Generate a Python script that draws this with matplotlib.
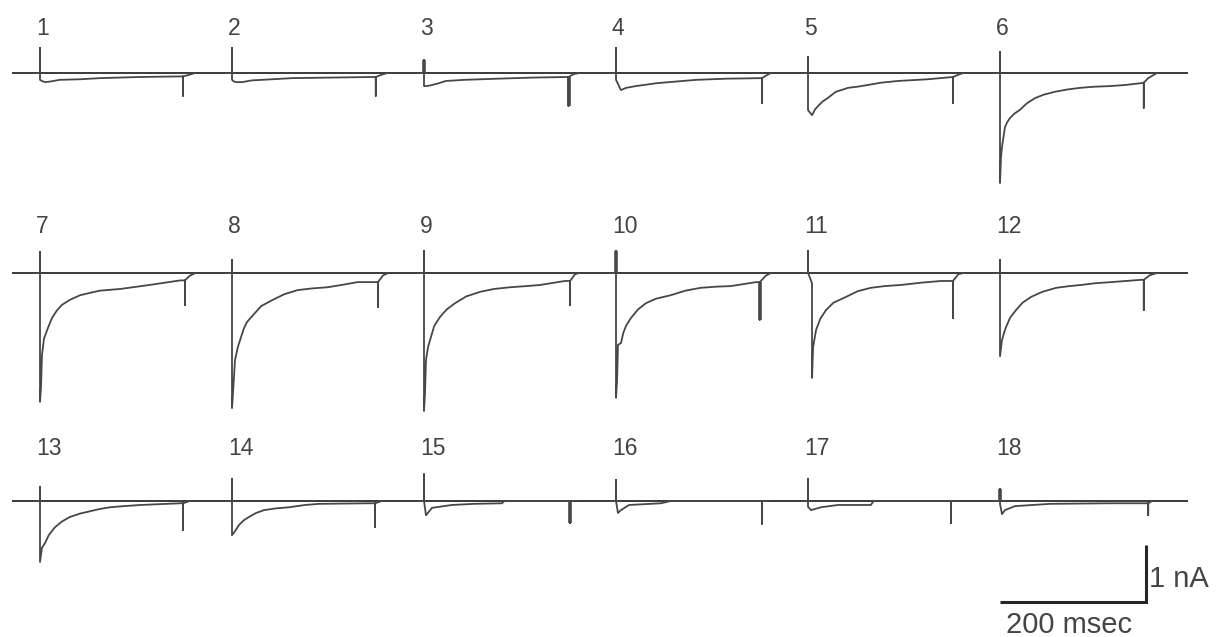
import matplotlib
matplotlib.use("Agg")
import matplotlib.pyplot as plt

# ---------------- data (time in ms from step onset, current in nA) ----------------
labels = [str(k) for k in range(1, 19)]

t01 = [-8, 0, 0, 0, 2.7, 6.8, 14, 27, 55, 82, 137, 192, 196, 196, 196, 205, 212]
i01 = [0, 0, 0.44, -0.12, -0.14, -0.16, -0.15, -0.12, -0.11, -0.09, -0.07, -0.06, -0.06, -0.40, -0.06, -0.03, 0.0]
t02 = [-8, 0, 0, 0, 2.7, 6.8, 14, 27, 55, 82, 137, 194, 197, 197, 197, 205, 213]
i02 = [0, 0, 0.44, -0.12, -0.15, -0.16, -0.16, -0.13, -0.11, -0.09, -0.08, -0.07, -0.07, -0.40, -0.07, -0.03, 0.0]
t03 = [-8, 0, 0, 0, 2.7, 8, 20, 30, 55, 100, 150, 198, 198, 198, 205, 213]
i03 = [0, 0, 0.23, -0.23, -0.23, -0.22, -0.18, -0.14, -0.12, -0.10, -0.08, -0.07, -0.58, -0.07, -0.02, 0.0]
t04 = [-8, 0, 0, 0, 6.8, 14, 27, 55, 82, 110, 150, 200, 200, 200, 205, 212]
i04 = [0, 0, 0.44, -0.12, -0.30, -0.26, -0.23, -0.18, -0.15, -0.12, -0.10, -0.09, -0.53, -0.09, -0.05, 0.0]
t05 = [-8, 0, 0, 0, 5.5, 9.6, 13.7, 20, 27, 38, 48, 55, 68, 82, 100, 123, 164, 198.6, 198.6, 198.6, 208, 213]
i05 = [0, 0, 0.28, -0.65, -0.74, -0.64, -0.58, -0.50, -0.44, -0.33, -0.29, -0.26, -0.24, -0.21, -0.17, -0.14, -0.11, -0.07, -0.53, -0.07, -0.02, 0.0]
t06 = [-8, 0, 0, 0, 1.4, 2.7, 4.1, 6.8, 10, 13.7, 20, 27, 37, 48, 60, 75, 92, 110, 130, 150, 172, 192, 197, 197, 197, 203, 215]
i06 = [0, 0, 0.37, -1.93, -1.47, -1.30, -1.18, -0.95, -0.86, -0.79, -0.71, -0.65, -0.53, -0.44, -0.38, -0.33, -0.29, -0.26, -0.24, -0.23, -0.21, -0.18, -0.17, -0.61, -0.17, -0.09, 0.0]

t07 = [-8, 0, 0, 0, 1.4, 2.7, 5.5, 11, 16.4, 23, 30, 41, 55, 68, 82, 110, 150, 192, 198.6, 198.6, 198.6, 205, 213]
i07 = [0, 0, 0.37, -2.26, -2.0, -1.44, -1.15, -0.96, -0.79, -0.66, -0.56, -0.47, -0.39, -0.35, -0.31, -0.28, -0.21, -0.13, -0.13, -0.56, -0.13, -0.05, 0.0]
t08 = [-8, 0, 0, 0, 1.4, 4.1, 8, 11, 16, 20.5, 28.8, 40, 56, 72, 90, 110, 131, 150, 172, 200, 200, 200, 207, 214]
i08 = [0, 0, 0.23, -2.37, -2.1, -1.53, -1.30, -1.18, -0.98, -0.86, -0.74, -0.58, -0.47, -0.37, -0.30, -0.27, -0.25, -0.21, -0.16, -0.16, -0.60, -0.16, -0.04, 0.0]
t09 = [-8, 0, 0, 0, 1.4, 2.7, 5.5, 8.2, 14, 22, 31, 42.5, 58, 77, 96, 118, 140, 159, 193, 200, 200, 200, 207, 213]
i09 = [0, 0, 0.39, -2.42, -2.1, -1.53, -1.30, -1.18, -0.93, -0.77, -0.64, -0.53, -0.41, -0.33, -0.28, -0.25, -0.23, -0.21, -0.14, -0.14, -0.56, -0.14, -0.02, 0.0]
t10 = [-8, 0, 0, 0, 1.4, 2.7, 6.8, 10, 14, 20.5, 30, 41, 55, 75, 95, 116, 137, 157, 192, 197, 197, 197, 205, 212]
i10 = [0, 0, 0.39, -2.19, -1.9, -1.26, -1.23, -1.05, -0.92, -0.79, -0.64, -0.53, -0.45, -0.39, -0.31, -0.26, -0.24, -0.23, -0.16, -0.16, -0.82, -0.16, -0.05, 0.0]
t11 = [-8, 0, 0, 0, 1.4, 5.5, 5.5, 7, 11, 17, 24.7, 35, 52, 68, 86, 105, 127, 155, 182, 198.6, 198.6, 198.6, 206, 213]
i11 = [0, 0, 0.39, 0, -0.04, -0.18, -1.84, -1.3, -1.0, -0.80, -0.65, -0.52, -0.42, -0.32, -0.26, -0.23, -0.21, -0.17, -0.14, -0.14, -0.79, -0.14, -0.02, 0.0]
t12 = [-8, 0, 0, 0, 2.7, 5.5, 8.2, 14, 22, 31, 42.5, 58, 77, 95, 111, 130, 152, 193, 197, 197, 197, 205, 215]
i12 = [0, 0, 0.23, -1.46, -1.18, -1.05, -0.95, -0.78, -0.65, -0.52, -0.42, -0.33, -0.26, -0.23, -0.21, -0.18, -0.16, -0.12, -0.12, -0.65, -0.12, -0.04, 0.0]

t13 = [-8, 0, 0, 0, 2.7, 6.8, 12, 20.5, 30, 41, 55, 68.5, 82, 96, 115, 137, 192, 196, 196, 196, 205]
i13 = [0, 0, 0.25, -1.07, -0.82, -0.74, -0.60, -0.46, -0.36, -0.28, -0.22, -0.18, -0.14, -0.11, -0.09, -0.07, -0.04, -0.04, -0.51, -0.04, 0.0]
t14 = [-8, 0, 0, 0, 4.1, 9.6, 16, 23.3, 33, 43.8, 60, 78, 100, 119, 188, 196, 196, 196, 205]
i14 = [0, 0, 0.39, -0.60, -0.53, -0.42, -0.34, -0.28, -0.21, -0.16, -0.13, -0.11, -0.07, -0.05, -0.04, -0.04, -0.46, -0.04, 0.0]
t15 = [-8, 0, 0, 0, 2.7, 11, 38, 68, 107, 110, 200, 200, 200, 210]
i15 = [0, 0, 0.47, 0, -0.25, -0.12, -0.07, -0.05, -0.04, 0, 0, -0.39, 0, 0]
t16 = [-8, 0, 0, 0, 2.7, 6.8, 17.8, 61.6, 75, 200, 200, 200, 210]
i16 = [0, 0, 0.37, 0, -0.21, -0.16, -0.07, -0.04, 0, 0, -0.40, 0, 0]
t17 = [-8, 0, 0, 0, 4.1, 17.8, 41, 86, 90, 196, 196, 196, 205]
i17 = [0, 0, 0.39, -0.10, -0.16, -0.11, -0.07, -0.07, 0, 0, -0.39, 0, 0]
t18 = [-8, 0, 0, 0, 2.7, 6.8, 20.5, 68.5, 150, 203, 203, 203, 208]
i18 = [0, 0, 0.21, -0.05, -0.23, -0.16, -0.09, -0.05, -0.04, -0.04, -0.25, -0.04, 0]

traces_t = [t01, t02, t03, t04, t05, t06, t07, t08, t09, t10, t11, t12,
            t13, t14, t15, t16, t17, t18]
traces_i = [i01, i02, i03, i04, i05, i06, i07, i08, i09, i10, i11, i12,
            i13, i14, i15, i16, i17, i18]

scale_ms = 200
scale_nA = 1

# ---------------- layout ----------------
W, H = 1216, 637
PX_PER_MS = 0.73
PX_PER_NA = 57.0


def px_x(p):
    return p / PX_PER_MS


def px_y(p):
    return -p / PX_PER_NA


col_onset_px = [40, 232, 424, 616, 808, 1000]
row_base_px = [73, 273, 501]
row_label_px = [35, 233, 455]
# traces whose onset / offset transients are drawn heavier
heavy_on = {2, 9, 17}
heavy_off = {2, 9, 14}

fig = plt.figure(figsize=(W / 100, H / 100), dpi=100)
ax = fig.add_axes([0, 0, 1, 1])
ax.set_xlim(0, px_x(W))
ax.set_ylim(px_y(H), 0)
ax.axis("off")

trace_color = "#474747"
text_color = "#444444"
font = "Liberation Sans"

for r in range(3):
    yb = px_y(row_base_px[r])
    ax.plot([px_x(12), px_x(1188)], [yb, yb], color="#3a3a3a", lw=1.4,
            solid_capstyle="butt", zorder=2)

for k in range(18):
    r, c = divmod(k, 6)
    x0 = px_x(col_onset_px[c])
    y0 = px_y(row_base_px[r])
    tt, ii = traces_t[k], traces_i[k]
    xs = [x0 + t for t in tt]
    ys = [y0 + v for v in ii]
    ax.plot(xs, ys, color=trace_color, lw=1.3, solid_joinstyle="round", zorder=3)
    if k in heavy_on:
        ax.plot([xs[2], xs[2]], [ys[2], y0], color=trace_color, lw=2.6,
                solid_capstyle="butt", zorder=3)
    if k in heavy_off:
        j = min(range(len(ii)), key=lambda n: ii[n] if tt[n] > 100 else 9)
        ax.plot([xs[j], xs[j]], [ys[j], y0 + ii[j - 1]], color=trace_color, lw=2.6,
                solid_capstyle="butt", zorder=3)
    ax.text(x0 - px_x(4), px_y(row_label_px[r]), labels[k], ha="left",
            va="baseline", fontsize=16.5, color=text_color, family=font)

# scale bar
bx = px_x(1146)
by = px_y(602)
ax.plot([bx - scale_ms, bx, bx], [by, by, by + scale_nA], color="#262626",
        lw=2.2, solid_joinstyle="miter", solid_capstyle="butt")
ax.text(bx - scale_ms / 2 - px_x(4), px_y(633), f"{scale_ms} msec", ha="center",
        va="baseline", fontsize=21, color=text_color, family=font)
ax.text(bx + px_x(3), px_y(587), f"{scale_nA} nA", ha="left", va="baseline",
        fontsize=21, color=text_color, family=font)

fig.savefig("out.png", dpi=100, facecolor="white")
